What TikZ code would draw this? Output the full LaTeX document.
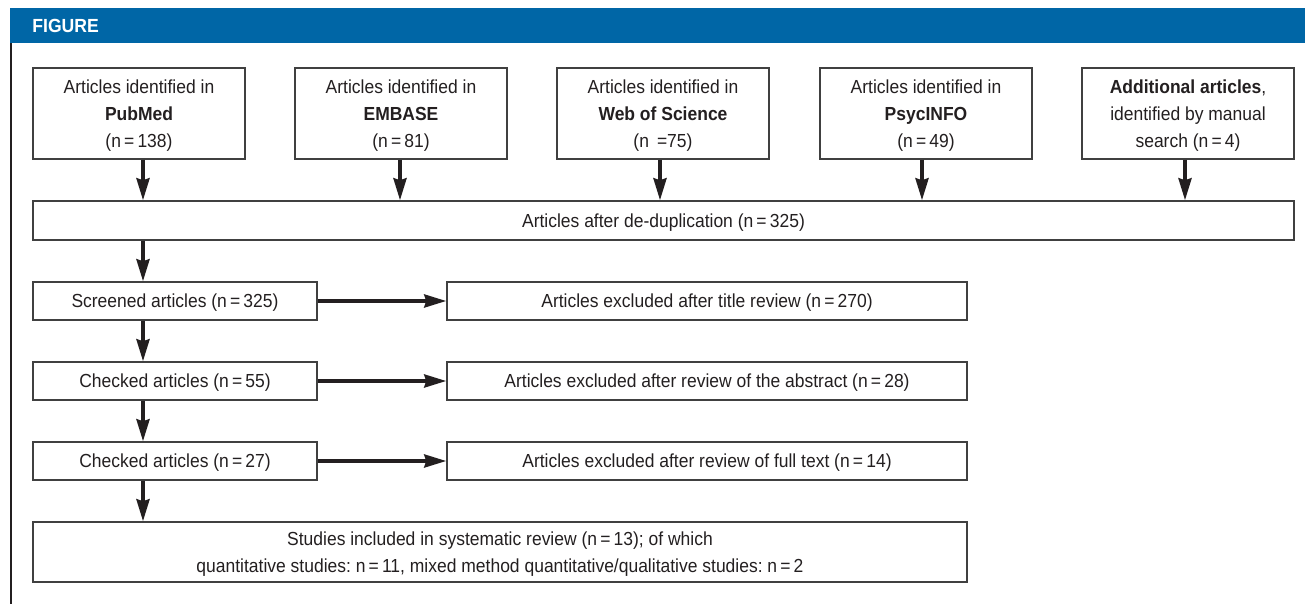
\documentclass[tikz,border=0pt]{standalone}
\usepackage{fontspec}
\setmainfont{Liberation Sans}[FakeStretch=0.925]
\usetikzlibrary{arrows.meta}
\definecolor{figblue}{RGB}{0,102,166}
\definecolor{ink}{RGB}{35,31,32}
\definecolor{rule}{RGB}{64,64,64}
\frenchspacing

\begin{document}
\begin{tikzpicture} [x=0.5pt, y=-0.5pt,
                every node/.style={inner sep=0pt, text=ink, font=\fontsize{9.45}{13.5}\selectfont, align=center},
                box/.style={draw=rule, line width=0.75pt, text depth=0pt},
                arr/.style={draw=ink, line width=1.75pt, -{Stealth[length=11pt, width=6.5pt, inset=1pt]}}]
                \tikzset{dbbox/.style={box, minimum width=106pt, minimum height=45.5pt},
                         rowbox/.style={box, minimum width=142pt, minimum height=19pt},
                         exclbox/.style={box, minimum width=260pt, minimum height=19pt}}
                \useasboundingbox (0,0) rectangle (1305,604);
                % header bar and left rule
                \fill[figblue] (9.5,8) rectangle (1305,43);
                \node[anchor=west, text=white, font=\fontsize{9.5}{12}\selectfont\bfseries] (title) at (32,26) {FIGURE};
                \draw[draw=ink, line width=1.25pt] (10.75,43) -- (10.75,604);
                % sources
                \node[dbbox] (pubmed) at (139,113.5) {Articles identified in\\\textbf{PubMed}\\(n\,=\,138)};
                \node[dbbox] (embase) at (401,113.5) {Articles identified in\\\textbf{EMBASE}\\(n\,=\,81)};
                \node[dbbox] (wos) at (663,113.5) {Articles identified in\\\textbf{Web of Science}\\(n \,=75)};
                \node[dbbox] (psyc) at (926,113.5) {Articles identified in\\\textbf{PsycINFO}\\(n\,=\,49)};
                \node[dbbox] (manual) at (1188,113.5) {\textbf{Additional articles},\\identified by manual\\search (n\,=\,4)};
                \node[box, minimum width=630.5pt, minimum height=19.5pt] (dedup) at (663.5,220.5) {Articles after de-duplication (n\,=\,325)};
                \foreach \src/\dx in {pubmed/4, embase/-1, wos/-3, psyc/-4, manual/-3}
                    \draw[arr] ([xshift=\dx*0.5pt]\src.south) -- ([xshift=\dx*0.5pt]\src.south |- dedup.north);
                % screening
                \node[rowbox] (screen) at (175,301) {Screened articles (n\,=\,325)};
                \node[exclbox] (exttl) at (707,301) {Articles excluded after title review (n\,=\,270)};
                \node[rowbox] (chkabs) at (175,381) {Checked articles (n\,=\,55)};
                \node[exclbox] (exabs) at (707,381) {Articles excluded after review of the abstract (n\,=\,28)};
                \node[rowbox] (chkfull) at (175,461) {Checked articles (n\,=\,27)};
                \node[exclbox] (exfull) at (707,461) {Articles excluded after review of full text (n\,=\,14)};
                \node[box, minimum width=467pt, minimum height=30pt] (incl) at (500,552) {Studies included in systematic review (n\,=\,13); of which\\quantitative studies: n\,=\,11, mixed method quantitative/qualitative studies: n\,=\,2};
                \coordinate (col) at (143,0);
                \draw[arr] (col |- dedup.south) -- (col |- screen.north);
                \draw[arr] (col |- screen.south) -- (col |- chkabs.north);
                \draw[arr] (col |- chkabs.south) -- (col |- chkfull.north);
                \draw[arr] (col |- chkfull.south) -- (col |- incl.north);
                \draw[arr] (screen) -- (exttl);
                \draw[arr] (chkabs) -- (exabs);
                \draw[arr] (chkfull) -- (exfull);
            \end{tikzpicture}
\end{document}
